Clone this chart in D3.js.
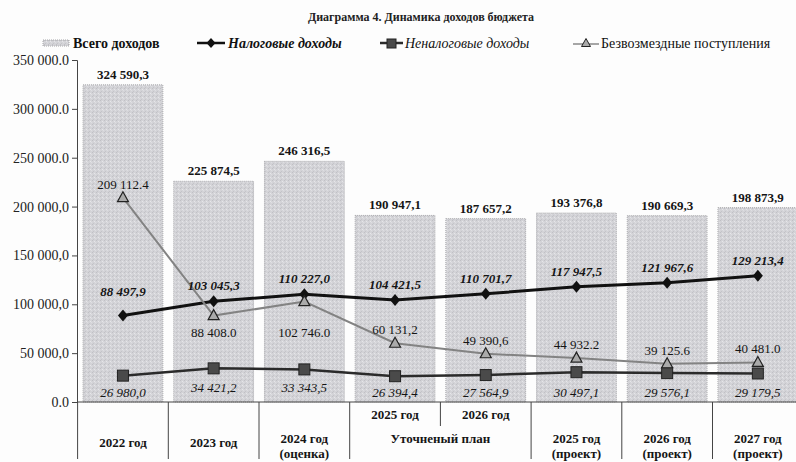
<!DOCTYPE html>
<html>
<head>
<meta charset="utf-8">
<script src="https://cdn.jsdelivr.net/npm/d3@7"></script>
<style>
  html, body { margin: 0; padding: 0; background: #fdfdfd; }
  svg { display: block; }
  svg text { font-family: "Liberation Serif", "DejaVu Serif", serif; }
</style>
</head>
<body>
<svg id="chart"></svg>
<script>
// --- data ---
const catLabels = [["2022 год"], ["2023 год"], ["2024 год", "(оценка)"], ["2025 год"], ["2026 год"],
                   ["2025 год", "(проект)"], ["2026 год", "(проект)"], ["2027 год", "(проект)"]];
const groupLabel = "Уточненый план";   // covers categories 3 and 4

const totalIncome = [324590.3, 225874.5, 246316.5, 190947.1, 187657.2, 193376.8, 190669.3, 198873.9];
const taxIncome = [88497.9, 103045.3, 110227.0, 104421.5, 110701.7, 117947.5, 121967.6, 129213.4];
const nonTaxIncome = [26980.0, 34421.2, 33343.5, 26394.4, 27564.9, 30497.1, 29576.1, 29179.5];
const transfers = [209112.4, 88408.0, 102746.0, 60131.2, 49390.6, 44932.2, 39125.6, 40481.0];
// the scan prints some transfer labels with a dot, some with a comma
const transferSep = [".", ".", ".", ",", ",", ".", ".", "."];

const yTicks = [0, 50000, 100000, 150000, 200000, 250000, 300000, 350000];
const yTickLabels = ["0.0", "50 000,0", "100 000,0", "150 000,0", "200 000,0", "250 000.0", "300 000.0", "350 000.0"];

const seriesNames = ["Всего доходов", "Налоговые доходы", "Неналоговые доходы", "Безвозмездные поступления"];

// --- setup ---
const width = 796, height = 462;
const FONT = "Liberation Serif, DejaVu Serif, serif";
const svg = d3.select("#chart").attr("width", width).attr("height", height)
  .attr("font-family", FONT);

const ruComma = d3.formatLocale({decimal: ",", thousands: " ", grouping: [3], currency: ["", ""]}).format(",.1f");
const ruDot = d3.formatLocale({decimal: ".", thousands: " ", grouping: [3], currency: ["", ""]}).format(",.1f");

const idx = d3.range(catLabels.length);
const x = d3.scaleBand().domain(idx).range([77.6, 803.2]).paddingInner(0.12).paddingOuter(0.06);
const y = d3.scaleLinear().domain([0, 350000]).range([402, 60]);
const cx = i => x(i) + x.bandwidth() / 2;

// speckled grey fill like the scanned bars
const defs = svg.append("defs");
const pat = defs.append("pattern").attr("id", "speck").attr("patternUnits", "userSpaceOnUse")
  .attr("width", 4).attr("height", 4);
pat.append("rect").attr("width", 4).attr("height", 4).attr("fill", "#d3d3d7");
[[0, 0, "#c0c0c5"], [2, 1, "#e6e6e9"], [1, 3, "#c4c4c9"], [3, 2, "#dedee2"]].forEach(p =>
  pat.append("rect").attr("x", p[0]).attr("y", p[1]).attr("width", 1).attr("height", 1).attr("fill", p[2]));

// --- title ---
svg.append("text").attr("x", 421).attr("y", 21).attr("text-anchor", "middle")
  .attr("font-size", 12).attr("font-weight", "bold").attr("fill", "#222")
  .text("Диаграмма 4. Динамика доходов бюджета");

// --- legend ---
const lg = svg.append("g").attr("font-size", 14).attr("fill", "#111");
lg.append("rect").attr("x", 43).attr("y", 40).attr("width", 26).attr("height", 6)
  .attr("fill", "url(#speck)").attr("stroke", "#a5a5a8").attr("stroke-dasharray", "1,1");
lg.append("text").attr("x", 73).attr("y", 48).attr("font-weight", "bold").text(seriesNames[0]);

lg.append("line").attr("x1", 197).attr("x2", 225).attr("y1", 43).attr("y2", 43).attr("stroke", "#111").attr("stroke-width", 2.5);
lg.append("path").attr("d", "M211,38L215.5,43L211,48L206.5,43Z").attr("fill", "#111");
lg.append("text").attr("x", 228).attr("y", 48).attr("font-weight", "bold").attr("font-style", "italic").text(seriesNames[1]);

lg.append("line").attr("x1", 380).attr("x2", 403).attr("y1", 43).attr("y2", 43).attr("stroke", "#2b2b2b").attr("stroke-width", 2.5);
lg.append("rect").attr("x", 387).attr("y", 39).attr("width", 9).attr("height", 9).attr("fill", "#4a4a4a").attr("stroke", "#222");
lg.append("text").attr("x", 405).attr("y", 48).attr("font-style", "italic").text(seriesNames[2]);

lg.append("line").attr("x1", 573).attr("x2", 599).attr("y1", 44).attr("y2", 44).attr("stroke", "#888").attr("stroke-width", 1.5);
lg.append("path").attr("d", "M586,38.5L590.5,46.5L581.5,46.5Z").attr("fill", "#aaa").attr("stroke", "#222");
lg.append("text").attr("x", 601).attr("y", 48).text(seriesNames[3]);

// --- bars ---
svg.append("g").selectAll("rect").data(totalIncome).join("rect")
  .attr("x", (d, i) => x(i)).attr("width", x.bandwidth())
  .attr("y", d => y(d)).attr("height", d => y(0) - y(d))
  .attr("fill", "url(#speck)").attr("stroke", "#a8a8ab").attr("stroke-dasharray", "1,1");

svg.append("g").selectAll("text").data(totalIncome).join("text")
  .attr("x", (d, i) => cx(i)).attr("y", d => y(d) - 6)
  .attr("text-anchor", "middle").attr("font-size", 13).attr("font-weight", "bold").attr("fill", "#151515")
  .text(d => ruComma(d));

// --- axes ---
const yAxis = svg.append("g").attr("transform", "translate(77,0)")
  .call(d3.axisLeft(y).tickValues(yTicks).tickSize(5).tickPadding(3).tickFormat((d, i) => yTickLabels[i]))
  .attr("font-family", FONT).attr("font-size", 14);
yAxis.select(".domain").attr("stroke", "#444");
yAxis.selectAll(".tick line").attr("stroke", "#444");
yAxis.selectAll(".tick text").attr("fill", "#222");

svg.append("line").attr("x1", 77).attr("x2", width).attr("y1", y(0)).attr("y2", y(0))
  .attr("stroke", "#444").attr("stroke-width", 1);

// category separators (the one inside "Уточненый план" is short)
const step = x.step();
svg.append("g").selectAll("line").data(d3.range(catLabels.length + 1)).join("line")
  .attr("x1", i => 77.6 + i * step).attr("x2", i => 77.6 + i * step)
  .attr("y1", y(0)).attr("y2", i => i === 4 ? 426 : 459)
  .attr("stroke", "#444").attr("stroke-width", 1);

const catG = svg.append("g").attr("font-size", 13).attr("font-weight", "bold").attr("fill", "#151515").attr("text-anchor", "middle");
catLabels.forEach((lines, i) => {
  const t = catG.append("text").attr("x", cx(i));
  if (i === 3 || i === 4) {
    t.attr("y", 419).text(lines[0]);
  } else if (lines.length === 1) {
    t.attr("y", 447).text(lines[0]);
  } else {
    lines.forEach((s, k) => t.append("tspan").attr("x", cx(i)).attr("y", 443 + k * 15).text(s));
  }
});
catG.append("text").attr("x", 77.6 + 4 * step).attr("y", 443).text(groupLabel);

// --- lines ---
const line = d3.line().x((d, i) => cx(i)).y(d => y(d));

svg.append("path").datum(taxIncome).attr("d", line).attr("fill", "none").attr("stroke", "#111").attr("stroke-width", 3);
svg.append("path").datum(nonTaxIncome).attr("d", line).attr("fill", "none").attr("stroke", "#2b2b2b").attr("stroke-width", 2.5);
svg.append("path").datum(transfers).attr("d", line).attr("fill", "none").attr("stroke", "#838383").attr("stroke-width", 2);

svg.append("g").selectAll("path").data(taxIncome).join("path")
  .attr("d", (d, i) => `M${cx(i)},${y(d) - 6}l5,6l-5,6l-5,-6Z`).attr("fill", "#111");

svg.append("g").selectAll("rect").data(nonTaxIncome).join("rect")
  .attr("x", (d, i) => cx(i) - 5.5).attr("y", d => y(d) - 5.5).attr("width", 11).attr("height", 11)
  .attr("fill", "#4a4a4a").attr("stroke", "#222");

svg.append("g").selectAll("path").data(transfers).join("path")
  .attr("d", (d, i) => `M${cx(i)},${y(d) - 6}l5.5,10l-11,0Z`)
  .attr("fill", "#aaa").attr("stroke", "#222").attr("stroke-width", 1.2);

// --- point labels ---
svg.append("g").selectAll("text").data(taxIncome).join("text")
  .attr("x", (d, i) => cx(i)).attr("y", (d, i) => y(d) - (i === 0 ? 20 : 11))
  .attr("text-anchor", "middle").attr("font-size", 13).attr("font-weight", "bold").attr("font-style", "italic")
  .attr("fill", "#151515").text(d => ruComma(d));

svg.append("g").selectAll("text").data(nonTaxIncome).join("text")
  .attr("x", (d, i) => cx(i)).attr("y", (d, i) => i === 1 || i === 2 ? y(0) - 10 : y(0) - 5)
  .attr("text-anchor", "middle").attr("font-size", 13).attr("font-style", "italic")
  .attr("fill", "#151515").text(d => ruComma(d));

// transfer labels sit above the point, except 2023-2024 where they go below
const belowPoint = i => i === 1 || i === 2;
svg.append("g").selectAll("text").data(transfers).join("text")
  .attr("x", (d, i) => cx(i)).attr("y", (d, i) => belowPoint(i) ? y(88408) + 21 : y(d) - 9)
  .attr("text-anchor", "middle").attr("font-size", 13)
  .attr("fill", "#151515").text((d, i) => (transferSep[i] === "." ? ruDot : ruComma)(d));
</script>
</body>
</html>
